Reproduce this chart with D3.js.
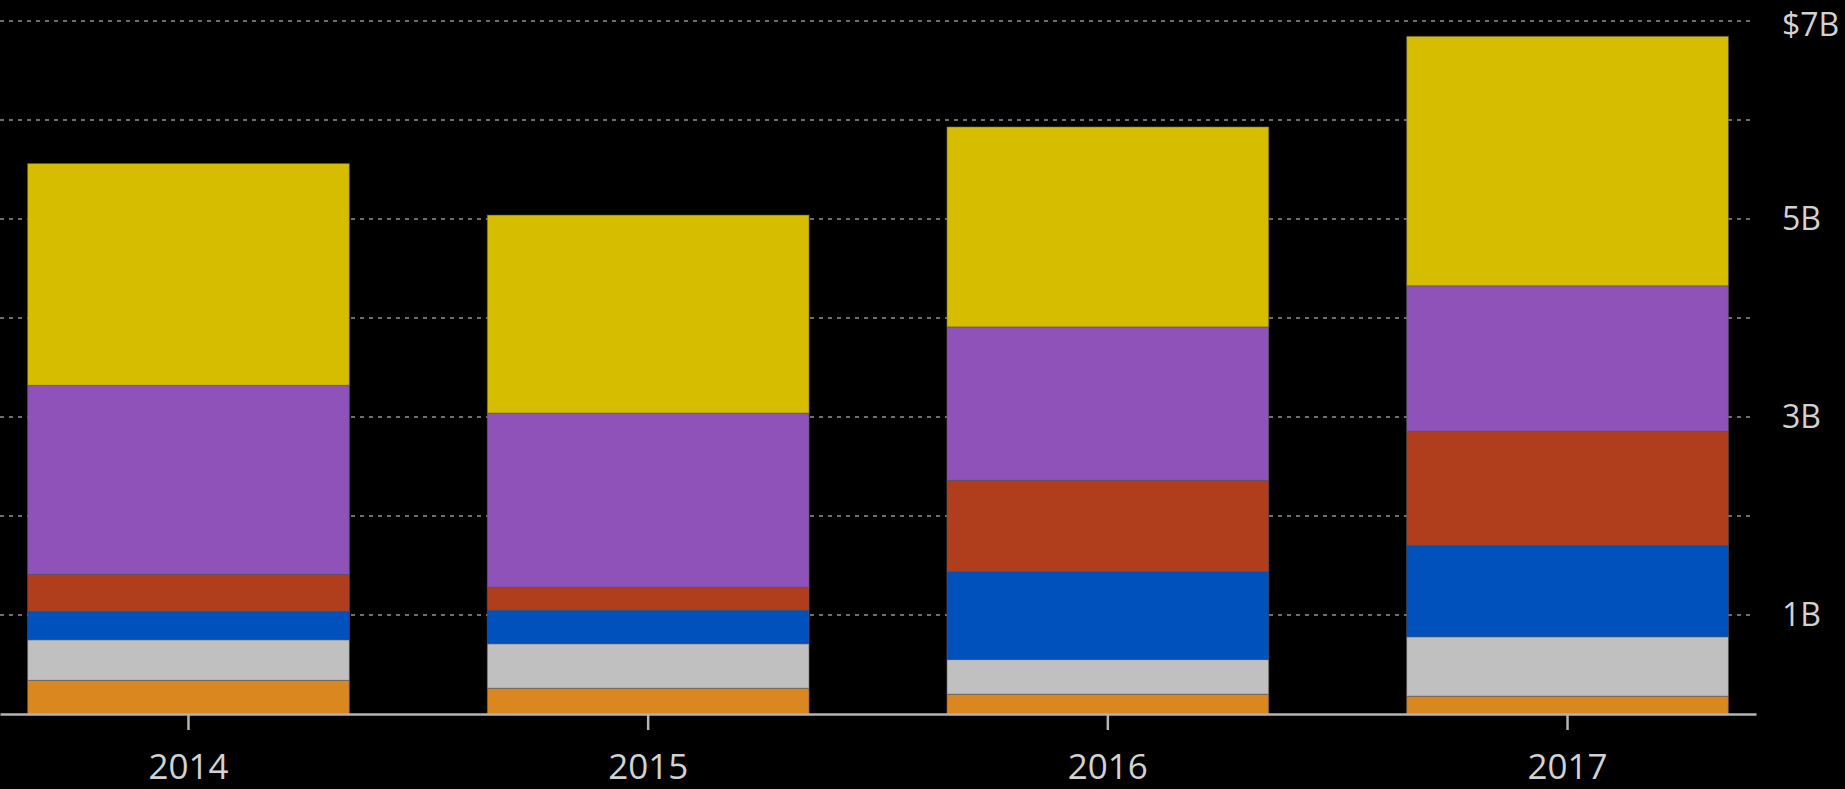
<!DOCTYPE html>
<html>
<head>
<meta charset="utf-8">
<script src="https://cdn.jsdelivr.net/npm/d3@7"></script>
<style>
  html, body { margin: 0; padding: 0; background: #000; }
  svg text { font-family: "Open Sans", sans-serif; }
</style>
</head>
<body>
<svg id="bar-chart" width="1845" height="789"></svg>
<script>
// data, in billions of dollars, stacked bottom to top
const years = ["2014", "2015", "2016", "2017"];
const seriesKeys = ["orange", "gray", "blue", "red", "purple", "yellow"];
const orangeValues = [0.34, 0.26, 0.2, 0.18];
const grayValues = [0.41, 0.45, 0.35, 0.6];
const blueValues = [0.29, 0.34, 0.89, 0.925];
const redValues = [0.37, 0.23, 0.92, 1.15];
const purpleValues = [1.91, 1.76, 1.55, 1.47];
const yellowValues = [2.24, 2.0, 2.02, 2.52];
const gridValues = [1, 2, 3, 4, 5, 6, 7];
const labelValues = [1, 3, 5, 7];

const colors = {
  orange: "#da8720",
  gray: "#c0c0c0",
  blue: "#0051bb",
  red: "#b03e1d",
  purple: "#8e52b9",
  yellow: "#d7bd00",
};

const chartArea = d3.select("svg#bar-chart");

const table = years.map((year, i) => ({
  year: year,
  orange: orangeValues[i],
  gray: grayValues[i],
  blue: blueValues[i],
  red: redValues[i],
  purple: purpleValues[i],
  yellow: yellowValues[i],
}));

const stacked = d3.stack().keys(seriesKeys)(table);

const xScale = d3
  .scaleBand()
  .domain(years)
  .range([0, 1756])
  .paddingInner(0.3)
  .paddingOuter(0.06);

const yScale = d3.scaleLinear().domain([0, 7]).range([714, 21]);

// dotted gridlines behind the bars
chartArea
  .append("g")
  .attr("class", "gridlines")
  .selectAll("line")
  .data(gridValues)
  .join("line")
  .attr("x1", 0)
  .attr("x2", 1752)
  .attr("y1", (d) => yScale(d))
  .attr("y2", (d) => yScale(d))
  .attr("stroke", "#6e6e6e")
  .attr("stroke-width", 2)
  .attr("stroke-dasharray", "4,5");

// stacked bars
chartArea
  .append("g")
  .attr("class", "bars")
  .selectAll("g")
  .data(stacked)
  .join("g")
  .attr("fill", (d) => colors[d.key])
  .selectAll("rect")
  .data((d) => d)
  .join("rect")
  .attr("x", (d) => xScale(d.data.year))
  .attr("width", xScale.bandwidth())
  .attr("y", (d) => yScale(d[1]))
  .attr("height", (d) => yScale(d[0]) - yScale(d[1]))
  .attr("stroke", "rgba(90,90,90,0.55)")
  .attr("stroke-width", 1);

// x axis
const xAxis = d3.axisBottom(xScale).tickSize(16).tickSizeOuter(0).tickPadding(24);
const xAxisGroup = chartArea
  .append("g")
  .attr("class", "x-axis")
  .attr("transform", `translate(0, ${yScale(0)})`)
  .call(xAxis);
xAxisGroup.select(".domain").attr("stroke", "#b4b4b4").attr("stroke-width", 2.5);
xAxisGroup.selectAll(".tick line").attr("stroke", "#b4b4b4").attr("stroke-width", 2.5);
xAxisGroup
  .selectAll(".tick text")
  .attr("fill", "#d2d2d2")
  .style("font-size", "35px");

// y axis labels on the right
const yAxis = d3
  .axisRight(yScale)
  .tickValues(labelValues)
  .tickSize(0)
  .tickPadding(30)
  .tickFormat((d) => (d === 7 ? "$7B" : d + "B"));
const yAxisGroup = chartArea
  .append("g")
  .attr("class", "y-axis")
  .attr("transform", `translate(1752, 0)`)
  .call(yAxis);
yAxisGroup.select(".domain").remove();
yAxisGroup
  .selectAll(".tick text")
  .attr("fill", "#d2d2d2")
  .style("font-size", "32px");
// keep the top label inside the picture
yAxisGroup
  .selectAll(".tick text")
  .filter((d) => d === 7)
  .attr("y", 4);
</script>
</body>
</html>
